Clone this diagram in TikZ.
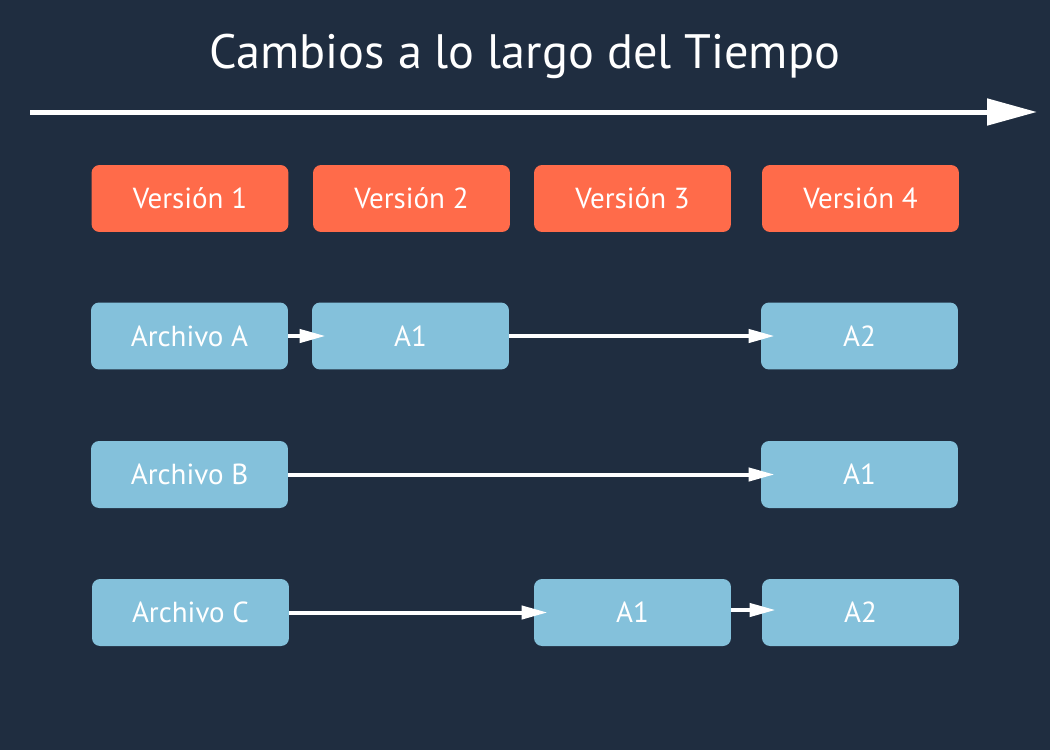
\documentclass[tikz,border=0pt]{standalone}
\usepackage{fontspec}
\setmainfont{PT Sans}
\usetikzlibrary{arrows.meta}
\definecolor{fondo}{HTML}{1F2D40}
\definecolor{naranja}{HTML}{FF6B4A}
\definecolor{celeste}{HTML}{84C1DB}
\tikzset{
  caja/.style={rounded corners=0.16cm, minimum width=3.94cm, minimum height=1.34cm,
    inner sep=0pt, text=white, font=\fontsize{16.5}{20}\selectfont},
  version/.style={caja, fill=naranja},
  archivo/.style={caja, fill=celeste},
  flecha/.style={white, line width=0.08cm, -{Triangle[length=0.52cm, width=0.26cm]}, shorten >=-0.28cm}
}
\begin{document}
\begin{tikzpicture}[x=0.02cm, y=-0.02cm]
\fill[fondo] (0,0) rectangle (1050,750);
\useasboundingbox (0,0) rectangle (1050,750);
\node[text=white, font=\fontsize{27.5}{32}\selectfont] (T) at (525,56) {Cambios a lo largo del Tiempo};
\coordinate (t0) at (30,112);
\coordinate (t1) at (1037,112);
\draw[white, line width=0.1cm, -{Triangle[length=1cm, width=0.52cm]}] (t0) -- (t1);

\node[version] (V1) at (190,198.5) {Versión 1};
\node[version] (V2) at (411.5,198.5) {Versión 2};
\node[version] (V3) at (632.5,198.5) {Versión 3};
\node[version] (V4) at (860.5,198.5) {Versión 4};

\node[archivo] (A) at (189.5,336) {Archivo A};
\node[archivo] (A1) at (410.5,336) {A1};
\node[archivo] (A2) at (859.5,336) {A2};
\node[archivo] (B) at (189.5,474.5) {Archivo B};
\node[archivo] (B1) at (859.5,474.5) {A1};
\node[archivo] (C) at (190.5,612.5) {Archivo C};
\node[archivo] (C1) at (632.5,612.5) {A1};
\node[archivo] (C2) at (860.5,612.5) {A2};

\draw[flecha] (A) -- (A1);
\draw[flecha] (A1) -- (A2);
\draw[flecha] (B) -- (B1);
\draw[flecha] (C) -- (C1);
\draw[flecha] ([yshift=0.05cm]C1.east) -- ([yshift=0.05cm]C2.west);
\end{tikzpicture}
\end{document}
